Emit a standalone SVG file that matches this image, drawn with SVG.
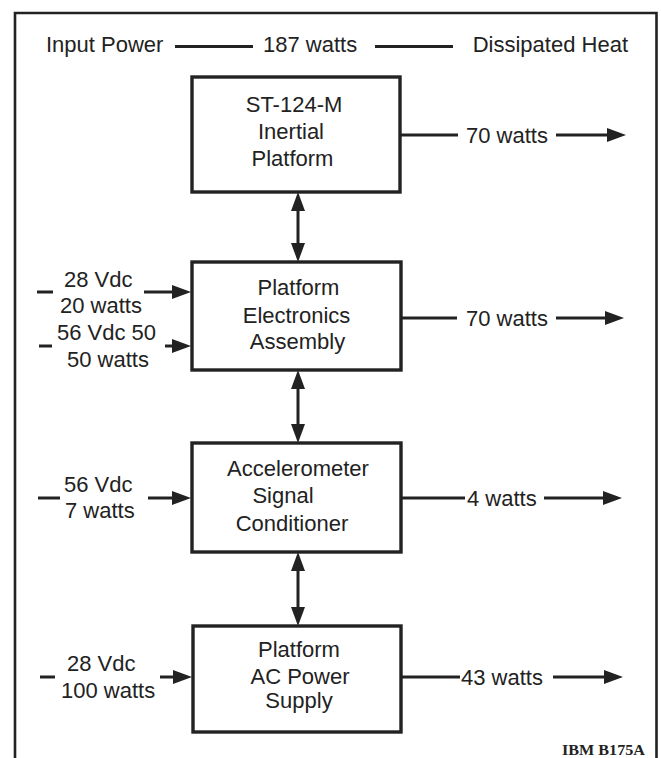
<svg xmlns="http://www.w3.org/2000/svg" width="661" height="758" viewBox="0 0 661 758">
<style>
text{font-family:"Liberation Sans",Arial,sans-serif;font-size:22px;fill:#222}
.box{fill:none;stroke:#222;stroke-width:3.4}
.ln{stroke:#222;stroke-width:3;fill:none}
.c{text-anchor:middle}
.frame{fill:none;stroke:#222;stroke-width:2.6}
.id{font-family:"Liberation Serif","Times New Roman",serif;font-weight:bold;font-size:15px}
</style>
<defs>
<marker id="ah" markerUnits="userSpaceOnUse" markerWidth="19" markerHeight="14" refX="14" refY="7" orient="auto-start-reverse" viewBox="0 0 19 14">
<path d="M0,0 L19,7 L0,14 z" fill="#222"/>
</marker>
</defs>
<rect width="661" height="758" fill="#ffffff"/>
<path class="frame" d="M15,770 V13 H656.5 V770"/>
<g id="title">
<text x="46" y="52">Input Power</text>
<text x="263" y="52">187 watts</text>
<text x="628" y="52" text-anchor="end">Dissipated Heat</text>
</g>
<g id="node-inertial-platform">
<rect class="box" x="192" y="77" width="208" height="115"/>
<text class="c" x="294" y="112">ST-124-M</text>
<text class="c" x="291" y="139">Inertial</text>
<text class="c" x="292.5" y="166">Platform</text>
</g>
<g id="node-electronics-assembly">
<rect class="box" x="192" y="262" width="209" height="108"/>
<text class="c" x="298.5" y="295">Platform</text>
<text class="c" x="296.5" y="322.5">Electronics</text>
<text class="c" x="297.5" y="349">Assembly</text>
</g>
<g id="node-signal-conditioner">
<rect class="box" x="192" y="443" width="209" height="109"/>
<text class="c" x="298" y="476">Accelerometer</text>
<text class="c" x="283" y="503">Signal</text>
<text class="c" x="292" y="530.5">Conditioner</text>
</g>
<g id="node-ac-power-supply">
<rect class="box" x="193" y="626" width="208" height="106"/>
<text class="c" x="299" y="657">Platform</text>
<text class="c" x="300" y="684">AC Power</text>
<text class="c" x="299" y="708">Supply</text>
</g>
<g id="labels">
<text x="64" y="287">28 Vdc</text>
<text x="60" y="313">20 watts</text>
<text x="57" y="340">56 Vdc 50</text>
<text x="67" y="367">50 watts</text>
<text x="64" y="492">56 Vdc</text>
<text x="65" y="518">7 watts</text>
<text x="67" y="671">28 Vdc</text>
<text x="61" y="698">100 watts</text>
<text x="466" y="143">70 watts</text>
<text x="466" y="325.5">70 watts</text>
<text x="467" y="505.5">4 watts</text>
<text x="461" y="684.5">43 watts</text>
<text class="id" x="645" y="755" text-anchor="end" textLength="83" lengthAdjust="spacingAndGlyphs">IBM B175A</text>
</g>
<g id="connectors">
<line class="ln" x1="175" y1="46.5" x2="253" y2="46.5"/>
<line class="ln" x1="375" y1="46.5" x2="453" y2="46.5"/>
<line class="ln" x1="298" y1="197" x2="298" y2="257" marker-start="url(#ah)" marker-end="url(#ah)"/>
<line class="ln" x1="298" y1="375" x2="298" y2="438" marker-start="url(#ah)" marker-end="url(#ah)"/>
<line class="ln" x1="298" y1="557" x2="298" y2="621" marker-start="url(#ah)" marker-end="url(#ah)"/>
<line class="ln" x1="37" y1="292" x2="53" y2="292"/>
<line class="ln" x1="144" y1="292" x2="186" y2="292" marker-end="url(#ah)"/>
<line class="ln" x1="39" y1="346" x2="52" y2="346"/>
<line class="ln" x1="165" y1="346" x2="186" y2="346" marker-end="url(#ah)"/>
<line class="ln" x1="38" y1="498" x2="60" y2="498"/>
<line class="ln" x1="148" y1="498" x2="186" y2="498" marker-end="url(#ah)"/>
<line class="ln" x1="40" y1="677" x2="55" y2="677"/>
<line class="ln" x1="160" y1="677" x2="187" y2="677" marker-end="url(#ah)"/>
<line class="ln" x1="400" y1="135" x2="458" y2="135"/>
<line class="ln" x1="556" y1="135" x2="621" y2="135" marker-end="url(#ah)"/>
<line class="ln" x1="401" y1="318" x2="457" y2="318"/>
<line class="ln" x1="556" y1="318" x2="619" y2="318" marker-end="url(#ah)"/>
<line class="ln" x1="401" y1="498" x2="465" y2="498"/>
<line class="ln" x1="544" y1="498" x2="617" y2="498" marker-end="url(#ah)"/>
<line class="ln" x1="401" y1="677" x2="460" y2="677"/>
<line class="ln" x1="553" y1="677" x2="618" y2="677" marker-end="url(#ah)"/>
</g>
</svg>
